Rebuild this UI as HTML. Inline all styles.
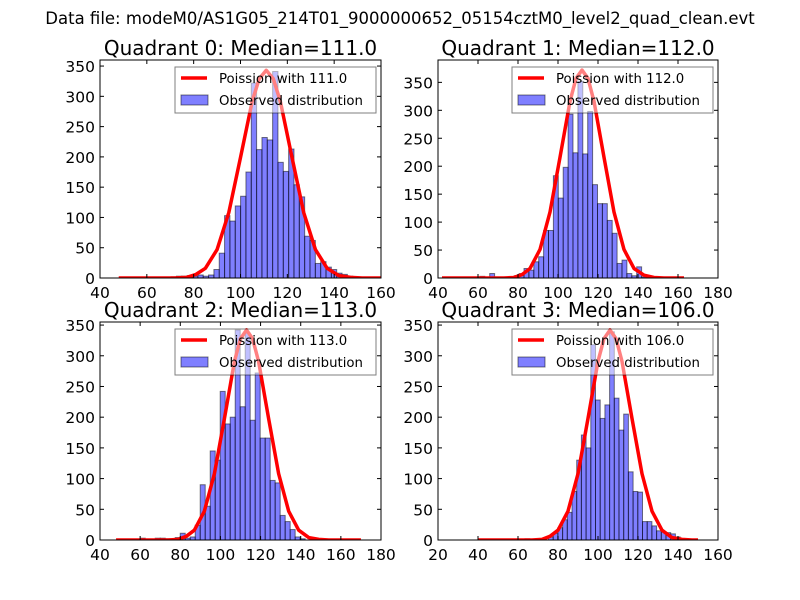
<!DOCTYPE html>
<html><head><meta charset="utf-8"><style>
body{margin:0;background:#fff;}
svg{display:block;font-family:"DejaVu Sans","Liberation Sans",sans-serif;}
</style></head><body>
<svg id="fig" width="800" height="600" viewBox="0 0 800 600">
<rect width="800" height="600" fill="#fff"/>
<text x="400" y="24" text-anchor="middle" font-size="16.5">Data file: modeM0/AS1G05_214T01_9000000652_05154cztM0_level2_quad_clean.evt</text>
</svg>
<script>
// Panel data (categories = quadrants)
const quadrants = ["Quadrant 0: Median=111.0","Quadrant 1: Median=112.0","Quadrant 2: Median=113.0","Quadrant 3: Median=106.0"];
const poissonLabels = ["Poission with 111.0","Poission with 112.0","Poission with 113.0","Poission with 106.0"];
const binStart = [47.6, 41.35, 47.6, 40];
const binWidth = [2.28, 2.45, 2.49, 2.35];
const counts0 = [0,0,0,0,0,0,0,0,0,0,2,3,3,4,3,5,3,5,14,41,103,94,119,135,175,322,212,232,228,341,191,176,213,154,134,69,62,24,27,18,14,8,6,3,2,1,0,0,0,0];
const counts1 = [0,0,0,0,0,0,0,0,3,0,8,0,0,0,2,4,8,17,14,29,38,85,85,183,143,198,293,224,352,222,298,167,133,133,103,80,26,32,8,4,20,2,0,0,0,0,0,0,0,0];
const counts2 = [0,0,0,0,0,3,0,0,3,3,2,0,4,11,3,5,24,90,55,145,130,242,189,200,342,217,337,195,272,166,166,97,93,40,30,17,5,2,0,0,0,0,0,0,0,0,0,0,0,0];
const counts3 = [0,0,0,0,0,0,0,0,0,0,2,0,0,0,0,5,11,20,33,45,79,130,171,150,318,228,198,220,339,231,179,205,111,79,78,30,30,23,15,13,12,10,5,0,0,0,0,0,0,0];
const curveX0 = [48,72,77,81,85,90,95,100,105,108,111,114,117,122,127,132,137,142,147,152,160];
const curveY0 = [0,0,1,6,16,47,108,199,292,329,343,329,292,199,108,47,16,4,1,0,0];
const curveX1 = [42,73,78,82,86,91,96,101,106,109,112,115,118,123,128,133,138,143,148,153,163];
const curveY1 = [0,0,1,6,17,51,118,216,316,357,372,357,316,216,118,51,17,5,1,0,0];
const curveX2 = [48,74,79,83,87,92,97,102,107,110,113,116,119,124,129,134,139,144,149,154,170];
const curveY2 = [0,0,1,6,16,47,108,198,291,328,342,328,291,198,108,47,16,4,1,0,0];
const curveX3 = [40,67,72,76,80,85,90,95,100,103,106,109,112,117,122,127,132,137,142,147,150];
const curveY3 = [0,0,1,6,16,47,108,198,291,328,342,328,291,198,108,47,16,4,1,0,0];
const xMin = [40,40,40,20];
const xMax = [160,180,180,160];
const yMax = [360,390,355,355];
const xTicks0 = [40,60,80,100,120,140,160];
const xTicks1 = [40,60,80,100,120,140,160,180];
const xTicks2 = [40,60,80,100,120,140,160,180];
const xTicks3 = [20,40,60,80,100,120,140,160];
const yTicks = [0,50,100,150,200,250,300,350];

const NS="http://www.w3.org/2000/svg";
const svg=document.getElementById('fig');
function mk(tag,attrs,parent){const e=document.createElementNS(NS,tag);for(const k in attrs)e.setAttribute(k,attrs[k]);(parent||svg).appendChild(e);return e;}
const boxes=[[100,60,381,278],[438,60,718,278],[100,322,381,540],[438,322,718,540]];
const countsAll=[counts0,counts1,counts2,counts3];
const cxAll=[curveX0,curveX1,curveX2,curveX3];
const cyAll=[curveY0,curveY1,curveY2,curveY3];
const xtAll=[xTicks0,xTicks1,xTicks2,xTicks3];
for(let p=0;p<4;p++){
  const [L,T,R,B]=boxes[p];
  const g=mk('g',{});
  
  
  const sx=v=>L+(v-xMin[p])/(xMax[p]-xMin[p])*(R-L);
  const sy=v=>B-v/yMax[p]*(B-T);
  const cl='clip'+p;
  const cp=mk('clipPath',{id:cl},g);mk('rect',{x:L,y:T,width:R-L,height:B-T},cp);
  const bars=mk('g',{'clip-path':'url(#'+cl+')'},g);
  countsAll[p].forEach((c,i)=>{
    if(c<=0)return;
    const x0=sx(binStart[p]+i*binWidth[p]),x1=sx(binStart[p]+(i+1)*binWidth[p]);
    const r=mk('rect',{x:x0,y:sy(c),width:x1-x0,height:B-sy(c),fill:'rgba(0,0,255,0.5)',stroke:'rgba(0,0,0,0.5)','stroke-width':1},bars);
    
    
  });
  const pts=cxAll[p].map((x,i)=>sx(x)+','+sy(cyAll[p][i])).join(' ');
  const line=mk('polyline',{points:pts,fill:'none',stroke:'#ff0000','stroke-width':3.5,'stroke-linejoin':'round','clip-path':'url(#'+cl+')'},g);
  
  
  mk('rect',{x:L,y:T,width:R-L,height:B-T,fill:'none',stroke:'#000','stroke-width':1},g);
  xtAll[p].forEach(v=>{
    const x=sx(v);
    mk('line',{x1:x,y1:B,x2:x,y2:B-4,stroke:'#000'},g);
    mk('line',{x1:x,y1:T,x2:x,y2:T+4,stroke:'#000'},g);
    const t=mk('text',{x:x,y:B+20,'text-anchor':'middle','font-size':15.5},g);t.textContent=v;
    
    
  });
  yTicks.forEach(v=>{
    const y=sy(v);
    mk('line',{x1:L,y1:y,x2:L+4,y2:y,stroke:'#000'},g);
    mk('line',{x1:R,y1:y,x2:R-4,y2:y,stroke:'#000'},g);
    const t=mk('text',{x:L-5,y:y+6,'text-anchor':'end','font-size':15.5},g);t.textContent=v;
    
    
  });
  const tt=mk('text',{x:(L+R)/2,y:T-5,'text-anchor':'middle','font-size':20},g);tt.textContent=quadrants[p];
  
  
  const lx=R-206,ly=T+7;
  const lg=mk('g',{},g);
  
  
  mk('rect',{x:lx,y:ly,width:201,height:46,fill:'rgba(255,255,255,0.5)',stroke:'rgba(0,0,0,0.5)'},lg);
  mk('line',{x1:lx+6,y1:ly+11,x2:lx+32,y2:ly+11,stroke:'#ff0000','stroke-width':3.5},lg);
  const t1=mk('text',{x:lx+44,y:ly+16,'font-size':13.3},lg);t1.textContent=poissonLabels[p];
  
  
  mk('rect',{x:lx+6,y:ly+28,width:27,height:10,fill:'rgba(0,0,255,0.5)',stroke:'rgba(0,0,0,0.5)'},lg);
  const t2=mk('text',{x:lx+44,y:ly+38,'font-size':13.3},lg);t2.textContent='Observed distribution';
  
  
}
</script>
</body></html>
